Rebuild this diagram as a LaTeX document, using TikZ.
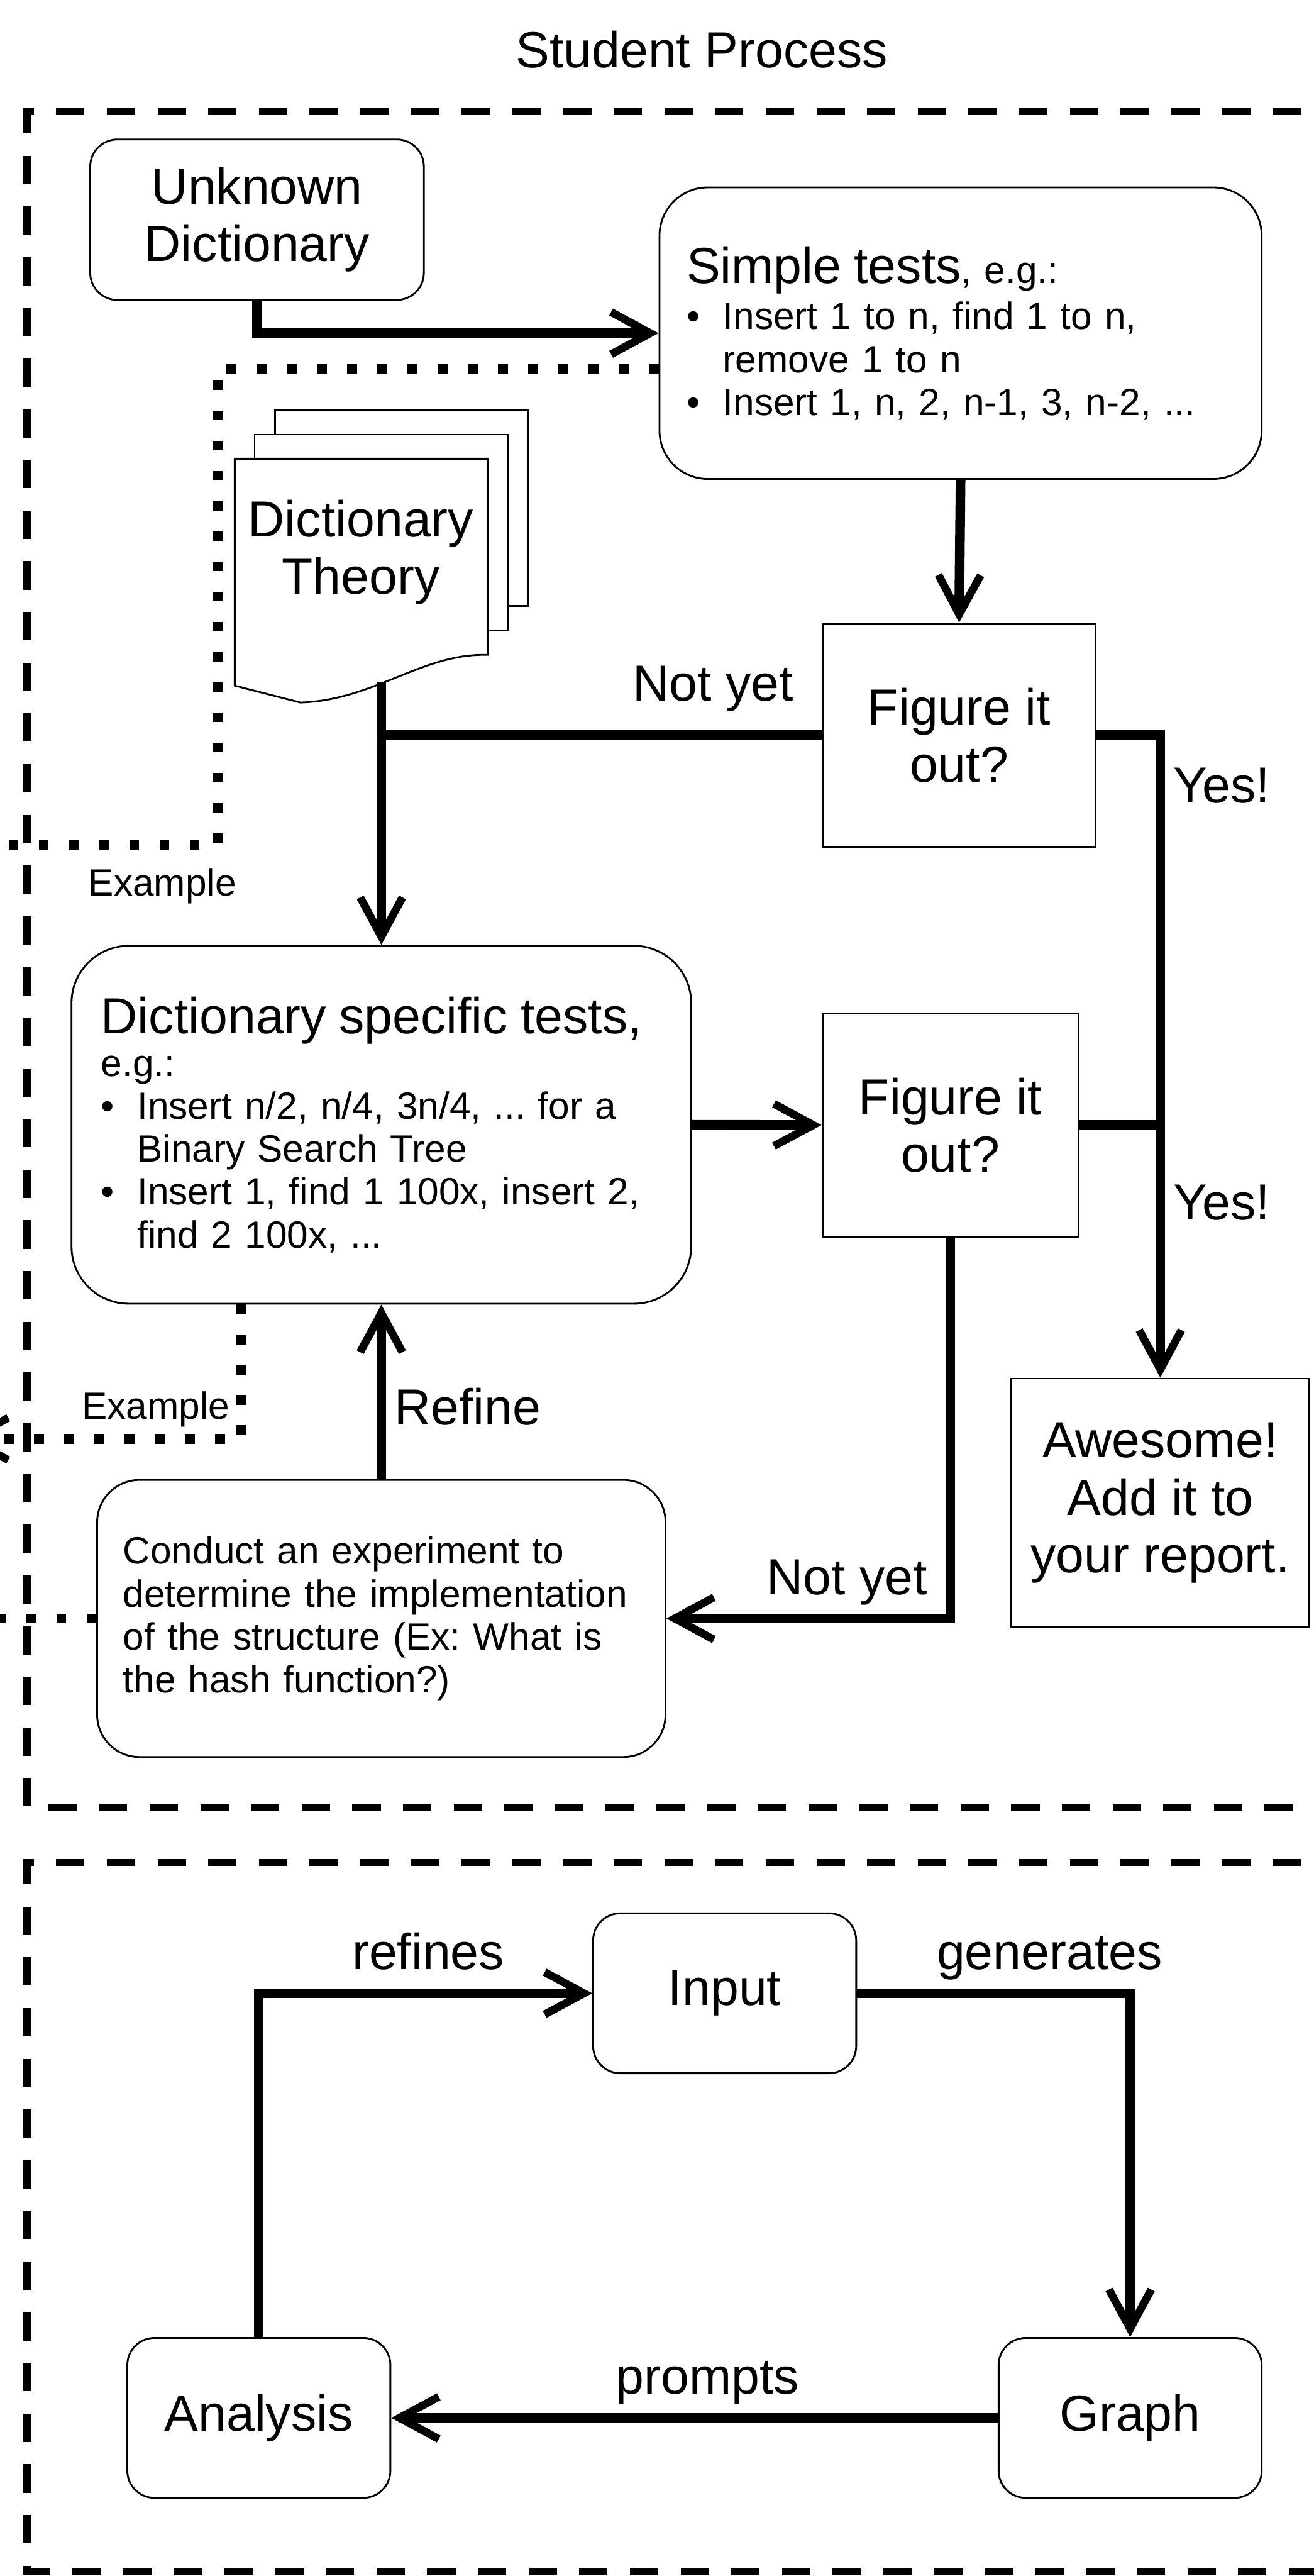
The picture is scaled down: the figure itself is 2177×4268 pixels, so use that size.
\documentclass[tikz,border=0pt]{standalone}
\usepackage{fontspec}
\setmainfont{Liberation Sans}
\usetikzlibrary{arrows.meta}
\frenchspacing
\newcommand{\bigtext}{\fontsize{23.9}{27}\selectfont}
\newcommand{\smalltext}{\fontsize{17.9}{20.2}\selectfont}
\newcommand{\bulletitem}{\makebox[6mm][l]{\textbullet}}
\newcommand{\hangitem}{\hspace*{6mm}}

\begin{document}
\begin{tikzpicture}[x=0.1mm, y=-0.1mm,
  box/.style={draw, line width=0.3mm, inner sep=0, align=center, font=\bigtext},
  roundbox/.style={box, rounded corners=4.5mm},
  flowline/.style={line width=1.6mm},
  flow/.style={flowline, -{Straight Barb[length=6.5mm, width=7mm, line width=1.3mm]}},
  example/.style={line width=1.6mm, dash pattern=on 1.6mm off 3.4mm},
  group/.style={line width=1.2mm, dash pattern=on 4.7mm off 3.7mm},
  tag/.style={inner sep=0, anchor=base west, font=\bigtext},
  smalltag/.style={tag, font=\smalltext}]
\useasboundingbox (0,0) rectangle (2177,4268);

\node[tag, anchor=base] (title) at (1163,112) {Student Process};

\draw[group] (2240,185) -- (45,185) -- (45,2995) -- (2240,2995);
\draw[group] (2240,3086) -- (45,3086) -- (45,4260) -- (2240,4260);

\node[roundbox, minimum width=55.3mm, minimum height=26.6mm] (unknown dictionary) at (426,364) {Unknown\\Dictionary};

\node[roundbox, rounded corners=8mm, minimum width=99.8mm, minimum height=48.3mm, align=left, text width=90.8mm, font=\smalltext] (simple tests) at (1592,552) {{\bigtext Simple tests}, e.g.:\\[0.6mm]
\bulletitem Insert 1 to n, find 1 to n,\\
\hangitem remove 1 to n\\
\bulletitem Insert 1, n, 2, n-1, 3, n-2, ...};

\draw[line width=0.3mm, fill=white] (456,679) rectangle (875,1004);
\draw[line width=0.3mm, fill=white] (422,720) rectangle (841,1045);
\draw[line width=0.3mm, fill=white] (389,760) -- (808,760) -- (808,1085) .. controls (700,1082) and (620,1160) .. (498,1164) -- (389,1136) -- cycle;
\node[align=center, font=\bigtext] (dictionary theory) at (598,915) {Dictionary\\Theory};
\coordinate (theory out) at (632,1131);

\node[box, minimum width=45.3mm, minimum height=37mm] (figure out 1) at (1589.5,1218) {Figure it\\out?};

\node[roundbox, rounded corners=9.5mm, minimum width=102.7mm, minimum height=59.3mm, align=left, text width=92.9mm, font=\smalltext] (specific tests) at (632,1863.5) {{\bigtext Dictionary specific tests,}\\
e.g.:\\
\bulletitem Insert n/2, n/4, 3n/4, ... for a\\
\hangitem Binary Search Tree\\
\bulletitem Insert 1, find 1 100x, insert 2,\\
\hangitem find 2 100x, ...};

\node[box, minimum width=42.4mm, minimum height=37mm] (figure out 2) at (1575,1864) {Figure it\\out?};

\node[box, minimum width=49.4mm, minimum height=41.2mm] (awesome) at (1923,2490) {Awesome!\\Add it to\\your report.};

\node[roundbox, rounded corners=7mm, minimum width=94.2mm, minimum height=45.9mm, align=left, text width=85.6mm, font=\smalltext] (experiment) at (632,2681.5) {Conduct an experiment to\\
determine the implementation\\
of the structure (Ex: What is\\
the hash function?)};

\coordinate (example 1) at (-20,1400);
\coordinate (example 2) at (-65,2384);
\coordinate (example 3) at (-20,2681.5);
\draw[example] ([yshift=-5.9mm]simple tests.west) -| (361,1400) -- (example 1);
\draw[example, -{Straight Barb[length=6.5mm, width=7mm, line width=1.3mm]}] ([xshift=-23.2mm]specific tests.south) |- (example 2);
\draw[example] (experiment.west) -- (example 3);
\node[smalltag] (example label 1) at (146,1484) {Example};
\node[smalltag] (example label 2) at (135,2351) {Example};

\draw[flow] (unknown dictionary.south) |- (simple tests.west);
\draw[flow] (simple tests.south) -- (figure out 1.north);
\draw[flowline] (theory out) -- (theory out |- figure out 1.west);
\draw[flow] (figure out 1.west) -| (specific tests.north);
\draw[flow] (figure out 1.east) -| (awesome.north);
\draw[flowline] (figure out 2.east) -- (figure out 2.east -| awesome.north);
\draw[flow] (specific tests.east) -- (figure out 2.west);
\draw[flow] (figure out 2.south) |- (experiment.east);
\draw[flow] (experiment.north) -- (specific tests.south);

\node[tag] (not yet 1) at (1048,1161) {Not yet};
\node[tag] (yes 1) at (1944,1330) {Yes!};
\node[tag] (yes 2) at (1944,2021) {Yes!};
\node[tag] (not yet 2) at (1270,2642) {Not yet};
\node[tag] (refine) at (653,2361) {Refine};

\node[roundbox, minimum width=43.6mm, minimum height=26.5mm] (input) at (1201,3302.5) {Input};
\node[roundbox, minimum width=43.6mm, minimum height=26.5mm] (analysis) at (429,4006) {Analysis};
\node[roundbox, minimum width=43.6mm, minimum height=26.5mm] (graph) at (1873,4006) {Graph};

\draw[flow] (analysis.north) |- (input.west);
\draw[flow] (input.east) -| (graph.north);
\draw[flow] (graph.west) -- (analysis.east);

\node[tag] (refines) at (583,3263) {refines};
\node[tag] (generates) at (1552,3263) {generates};
\node[tag] (prompts) at (1020,3966) {prompts};
\end{tikzpicture}
\end{document}
